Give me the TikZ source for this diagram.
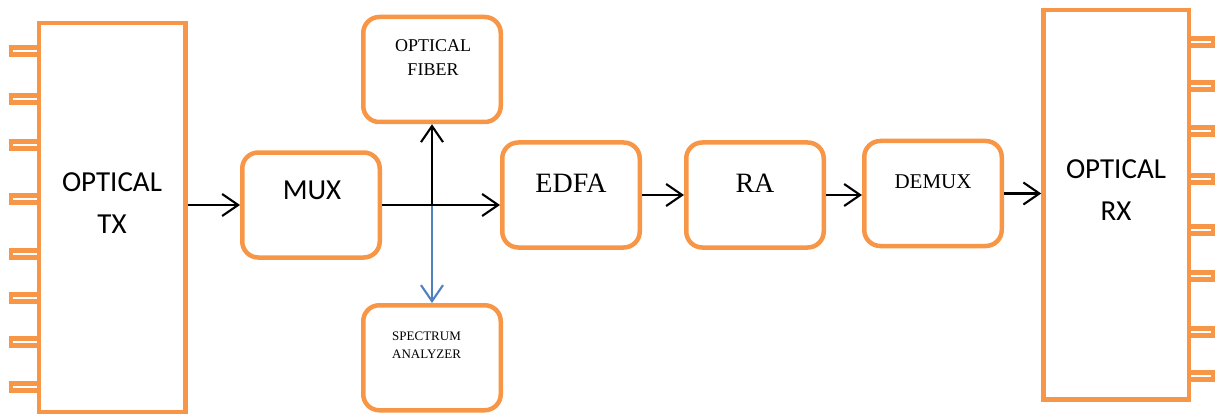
\documentclass[tikz,border=0pt]{standalone}
\usepackage{fontspec}
\setmainfont{Liberation Serif}
\newfontfamily\calibfont{Carlito}
\usetikzlibrary{arrows.meta}

\definecolor{boxorange}{HTML}{F79646}
\definecolor{tapblue}{HTML}{4F81BD}

\begin{document}
\begin{tikzpicture}[x=1pt,y=-1pt]
    % -----------------------------
    % Parameters (tweak as needed)
    % -----------------------------
    \def\bw{137.5}      % block width
    \def\bh{105}        % block height
    \def\lw{4.5pt}      % orange outline width
    \def\aw{2.1pt}      % arrow line width

    % -----------------------------
    % Styles
    % -----------------------------
    \tikzset{
      blk/.style={draw=boxorange, line width=\lw, rounded corners=16pt,
                  minimum width=\bw pt, minimum height=\bh pt, inner sep=0pt},
      tall/.style={draw=boxorange, line width=\lw, inner sep=0pt},
      port/.style={draw=boxorange, line width=4.5pt},
      arr/.style={draw=black, line width=\aw,
                  >={Straight Barb[length=16pt,width=22pt]}, ->},
      tap/.style={arr, draw=tapblue},
      sanslbl/.style={font=\calibfont\fontsize{29}{42}\selectfont, align=center, inner sep=0pt},
      serlbl/.style={font=\fontsize{28}{32}\selectfont, inner sep=0pt}
    }

    \useasboundingbox (0,0) rectangle (1223,417);

    % -----------------------------
    % Ports on the transmitter and receiver
    % -----------------------------
    \foreach \y in {51,99,145,199,254,298,342,387}
      \draw[port] (11,\y-3.5) rectangle (39,\y+3.5);
    \foreach \y in {42,86,131,179,230,276,332,376}
      \draw[port] (1189,\y-3.5) rectangle (1213,\y+3.5);

    % -----------------------------
    % Blocks
    % -----------------------------
    \node[tall, fill=white, minimum width=146.5pt, minimum height=389pt] (tx) at (112.25,217.5) {};
    \node[tall, fill=white, minimum width=145.5pt, minimum height=389.5pt] (rx) at (1116.25,204.75) {};
    \node[blk] (mux)   at (311,205) {};
    \node[blk] (fiber) at (432,69.5) {};
    \node[blk] (spec)  at (432,357.75) {};
    \node[blk] (edfa)  at (571,195) {};
    \node[blk] (ra)    at (755,195) {};
    \node[blk] (demux) at (933,193.5) {};

    % Labels
    \node[sanslbl] (txlbl) at (112,203) {OPTICAL\\TX};
    \node[sanslbl] (rxlbl) at (1116,190) {OPTICAL\\RX};
    \node[sanslbl] (muxlbl) at (312,190) {MUX};
    \node[serlbl] (edfalbl) at (571,183) {EDFA};
    \node[serlbl] (ralbl) at (755,183) {RA};
    \node[serlbl, font=\fontsize{21}{24}\selectfont] (demuxlbl) at (933,182) {DEMUX};
    \node[serlbl, font=\fontsize{18}{24}\selectfont, align=center] (fiberlbl) at (433,58) {OPTICAL\\FIBER};
    \node[serlbl, font=\fontsize{13}{18}\selectfont, align=left, anchor=west] (speclbl) at (392,345) {SPECTRUM\\ANALYZER};

    % -----------------------------
    % Connections
    % -----------------------------
    \coordinate (j) at (mux.east -| fiber.south);
    \draw[tap] (j) -- (spec.north);
    \draw[arr] (j) -- (fiber.south);
    \draw[arr] (mux.west -| tx.east) -- (mux.west);
    \draw[arr] (mux.east) -- (mux.east -| edfa.west);
    \draw[arr] (edfa.east) -- (ra.west);
    \draw[arr] (ra.east) -- (demux.west |- ra.east);
    \draw[arr] (demux.east) -- (demux.east -| rx.west);

\end{tikzpicture}
\end{document}
